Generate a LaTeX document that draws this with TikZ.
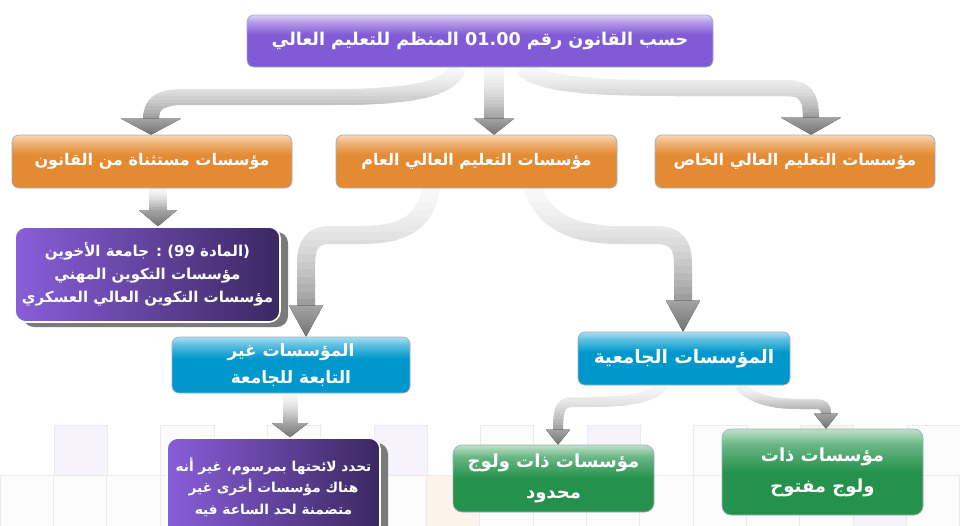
\documentclass[tikz,border=0pt]{standalone}
\usepackage{fontspec}
\TeXXeTstate=1
\newfontfamily\arabicfont[Script=Arabic]{DejaVu Sans}
\usetikzlibrary{calc,backgrounds,shadows}
\newcommand\RL[1]{\beginR #1\endR}

\definecolor{ttlbase}{RGB}{129,90,214}
\definecolor{ttltop}{RGB}{220,208,245}
\definecolor{orbase}{RGB}{227,138,50}
\definecolor{ortop}{RGB}{250,214,180}
\definecolor{cybase}{RGB}{0,152,204}
\definecolor{cytop}{RGB}{170,222,242}
\definecolor{grbase}{RGB}{36,146,76}
\definecolor{grtop}{RGB}{190,225,200}
\definecolor{pleft}{RGB}{137,94,218}
\definecolor{pright}{RGB}{58,40,96}
\definecolor{shadowgray}{RGB}{122,122,122}
\definecolor{edgecol}{RGB}{158,176,198}
\definecolor{gridline}{RGB}{234,234,240}
\definecolor{gridfill}{RGB}{252,252,253}
\definecolor{gridlav}{RGB}{246,243,252}
\definecolor{gridpeach}{RGB}{252,243,234}

\pgfdeclareverticalshading{glossttl}{100bp}{color(0bp)=(ttlbase); color(25bp)=(ttlbase); color(56bp)=(ttlbase); color(68bp)=(ttltop!55!ttlbase); color(75bp)=(ttltop); color(100bp)=(ttltop)}
\pgfdeclareverticalshading{glossor}{100bp}{color(0bp)=(orbase); color(25bp)=(orbase); color(56bp)=(orbase); color(68bp)=(ortop!55!orbase); color(75bp)=(ortop); color(100bp)=(ortop)}
\pgfdeclareverticalshading{glosscy}{100bp}{color(0bp)=(cybase); color(25bp)=(cybase); color(56bp)=(cybase); color(68bp)=(cytop!55!cybase); color(75bp)=(cytop); color(100bp)=(cytop)}
\pgfdeclareverticalshading{glossgr}{100bp}{color(0bp)=(grbase); color(25bp)=(grbase); color(50bp)=(grbase); color(66bp)=(grtop!45!grbase); color(75bp)=(grtop); color(100bp)=(grtop)}

% shaft with a top-to-bottom grey gradient: #1 width, #2 top y, #3 bottom y, #4 path
\newcommand\gradshaft[4]{%
  \foreach \i in {0,...,15}{%
    \pgfmathsetmacro\ya{\i==0 ? #2-40 : #2+(#3-#2)*\i/16}%
    \pgfmathsetmacro\yb{\i==15 ? #3+40 : #2+(#3-#2)*(\i+1)/16+0.7}%
    \pgfmathsetmacro\pc{3+37*((\i+0.5)/16)^1.7}%
    \begin{scope}
      \clip (-20,\ya) rectangle (980,\yb);
      \draw[line width=#1, draw=black!\pc] #4;
    \end{scope}
  }%
}
\newcommand\headat[3]{\fill[headfill] ($(#1)+(-#2,-#3)$) -- ($(#1)+(#2,-#3)$) -- (#1) -- cycle;}

\begin{document}
\begin{tikzpicture}[x=1pt,y=-1pt,
  boxbase/.style={rounded corners=7pt, draw=edgecol, line width=0.7pt, inner sep=0pt, align=center, text=white},
  ttlbox/.style={boxbase, shading=glossttl, font=\arabicfont\bfseries\fontsize{17.6}{21}\selectfont},
  orbox/.style={boxbase, shading=glossor, minimum width=280pt, minimum height=53pt, font=\arabicfont\bfseries\fontsize{16}{19}\selectfont},
  cybox/.style={boxbase, shading=glosscy, font=\arabicfont\bfseries\fontsize{17}{27}\selectfont},
  grbox/.style={boxbase, shading=glossgr, rounded corners=9pt, font=\arabicfont\bfseries\fontsize{18}{31}\selectfont},
  purbox/.style={rounded corners=11pt, draw=white, line width=1.6pt, inner sep=0pt, align=center, text=white,
     left color=pleft, right color=pright,
     drop shadow={shadow xshift=8pt, shadow yshift=-5pt, fill=shadowgray, opacity=1},
     font=\arabicfont\bfseries\fontsize{15}{23}\selectfont},
  headfill/.style={top color=black!36, bottom color=black!55, draw=none},
  gridcell/.style={draw=gridline, line width=0.6pt, fill=#1}
]
\useasboundingbox (0,0) rectangle (960,525);

% boxes
\node[ttlbox, minimum width=466pt, minimum height=52pt] (title) at (480,41)
  {\RL{حسب القانون رقم 01.00 المنظم للتعليم العالي}};
\node[orbox] (orL) at (152,161.5) {\RL{مؤسسات مستثناة من القانون}};
\node[orbox, minimum width=281pt] (orM) at (476.5,161.5) {\RL{مؤسسات التعليم العالي العام}};
\node[orbox] (orR) at (795,161.5) {\RL{مؤسسات التعليم العالي الخاص}};
\node[purbox, minimum width=265pt, minimum height=95pt] (purL) at (147.5,274.5)
  {\RL{(المادة 99) : جامعة الأخوين}\\ \RL{مؤسسات التكوين المهني}\\ \RL{مؤسسات التكوين العالي العسكري}};
\node[cybox, minimum width=238pt, minimum height=56pt] (cyL) at (291,365)
  {\RL{المؤسسات غير}\\ \RL{التابعة للجامعة}};
\node[cybox, minimum width=212pt, minimum height=53pt, font=\arabicfont\bfseries\fontsize{18.5}{27}\selectfont] (cyR) at (684,358.5)
  {\RL{المؤسسات الجامعية}};
\node[purbox, minimum width=213pt, minimum height=98pt, font=\arabicfont\bfseries\fontsize{13.7}{21.5}\selectfont] (purB) at (273.5,487)
  {\RL{تحدد لائحتها بمرسوم، غير أنه}\\ \RL{هناك مؤسسات أخرى غير}\\ \RL{متضمنة لحد الساعة فيه}};
\node[grbox, minimum width=201pt, minimum height=67pt] (grL) at (553.5,478.5)
  {\RL{مؤسسات ذات ولوج}\\ \RL{محدود}};
\node[grbox, minimum width=201pt, minimum height=86pt] (grR) at (822.5,472)
  {\RL{مؤسسات ذات}\\ \RL{ولوج مفتوح}};

% arrow tips on the box tops
\coordinate (t1) at (151,0 |- orL.north);
\coordinate (t2) at (494,0 |- orM.north);
\coordinate (t3) at (811,0 |- orR.north);
\coordinate (t4) at (158,0 |- purL.north);
\coordinate (t5) at (306,0 |- cyL.north);
\coordinate (t6) at (683,0 |- cyR.north);
\coordinate (t7) at (290,0 |- purB.north);
\coordinate (t8) at (558,0 |- grL.north);
\coordinate (t9) at (826,0 |- grR.north);

\begin{pgfonlayer}{background}
  \fill[white] (0,0) rectangle (960,525);
  % faint grid
  \foreach \k/\c in {0/gridlav,1/gridfill,2/gridfill,3/gridlav,4/gridfill,5/gridlav,6/gridfill,7/gridpeach,8/gridfill}
    \draw[gridcell=\c] ({54+106.6*\k},425) rectangle +(53.3,50);
  \foreach \j/\c in {0/gridfill,1/gridfill,2/gridfill,3/gridfill,4/gridfill,5/gridfill,6/gridfill,7/gridfill,8/gridpeach,9/gridfill,10/gridfill,11/gridfill,12/gridfill,13/gridfill,14/gridfill,15/gridfill,16/gridlav,17/gridfill}
    \draw[gridcell=\c] ({53.3*\j},475) rectangle +(53.3,60);

  % title -> left
  \gradshaft{16pt}{67}{120}{([xshift=-22pt]title.south) .. controls (450,92) and (400,97) .. (330,97) -- (185,97) .. controls (160,97) and (151,103) .. ($(t1)+(0,-15)$)}
  \headat{t1}{30}{16}
  % title -> middle
  \gradshaft{20pt}{67}{121}{(494,0 |- title.south) -- ($(t2)+(0,-14)$)}
  \headat{t2}{20}{16}
  % title -> right
  \gradshaft{16pt}{67}{119}{([xshift=42pt]title.south) .. controls (540,86) and (600,88) .. (680,88) -- (785,88) .. controls (805,88) and (811,95) .. ($(t3)+(0,-15)$)}
  \headat{t3}{30}{17}
  % left orange -> purple
  \gradshaft{18pt}{188}{212}{(158,0 |- orL.south) -- ($(t4)+(0,-15)$)}
  \headat{t4}{19}{16}
  % middle orange -> left cyan
  \gradshaft{18pt}{188}{307}{(431,0 |- orM.south) .. controls (425,225) and (400,235) .. (360,235) -- (330,235) .. controls (312,235) and (306,245) .. (306,265) -- ($(t5)+(0,-30)$)}
  \headat{t5}{17}{31}
  % middle orange -> right cyan
  \gradshaft{18pt}{188}{302}{(533,0 |- orM.south) .. controls (545,225) and (580,235) .. (620,235) -- (655,235) .. controls (677,235) and (683,245) .. (683,265) -- ($(t6)+(0,-30)$)}
  \headat{t6}{17}{31}
  % left cyan -> bottom purple
  \gradshaft{15pt}{393}{425}{(290,0 |- cyL.south) -- ($(t7)+(0,-13)$)}
  \headat{t7}{18}{14}
  % right cyan -> green left
  \gradshaft{10pt}{385}{431}{(664,0 |- cyR.south) .. controls (650,400) and (620,402) .. (590,402) -- (575,402) .. controls (562,402) and (558,405) .. ($(t8)+(0,-14)$)}
  \headat{t8}{12}{15}
  % right cyan -> green right
  \gradshaft{10pt}{385}{415}{(739,0 |- cyR.south) .. controls (755,402) and (780,404) .. (800,404) -- (815,404) .. controls (824,404) and (826,407) .. ($(t9)+(0,-14)$)}
  \headat{t9}{12}{15}
\end{pgfonlayer}
\end{tikzpicture}
\end{document}
